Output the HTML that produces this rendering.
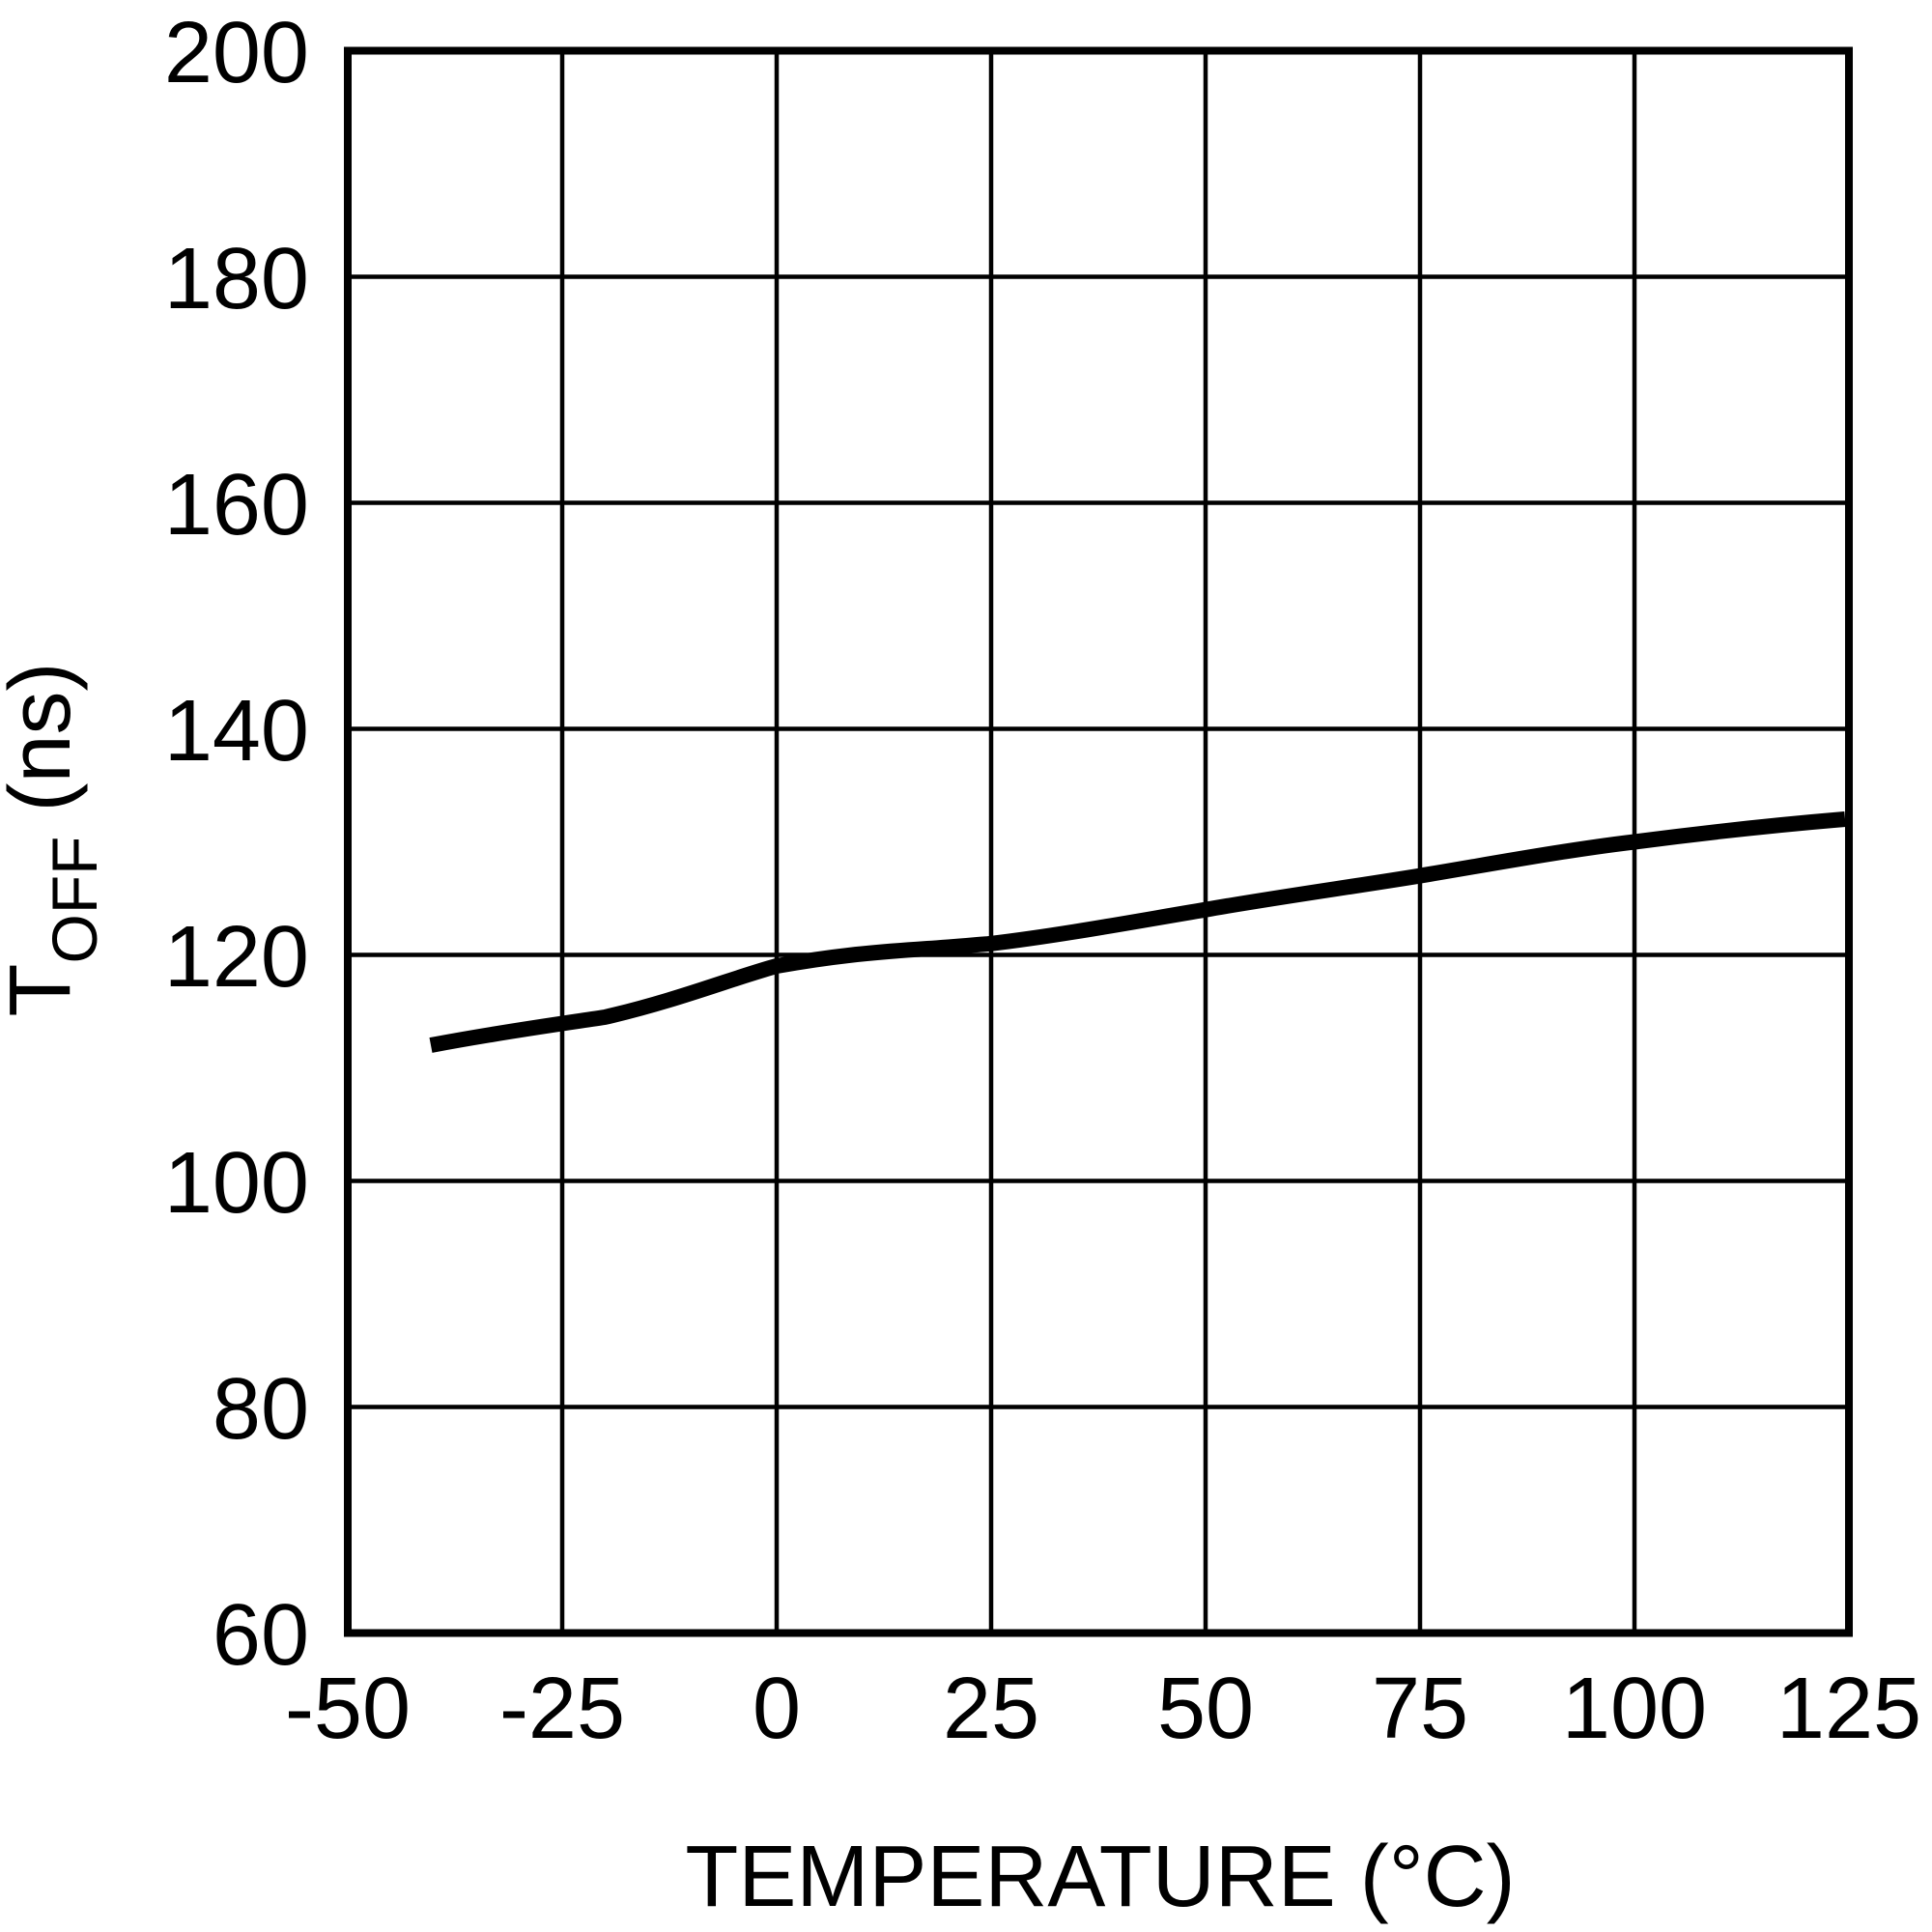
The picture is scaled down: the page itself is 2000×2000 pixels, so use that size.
<!DOCTYPE html>
<html><head><meta charset="utf-8"><style>html,body{margin:0;padding:0;background:#fff}svg{display:block}</style></head>
<body>
<svg width="2000" height="2000" viewBox="0 0 2000 2000" xmlns="http://www.w3.org/2000/svg" font-family="Liberation Sans, Arial, sans-serif">
<rect width="2000" height="2000" fill="#fff"/>
<g stroke="#000" stroke-width="4.5" fill="none">
<line x1="582" y1="52.5" x2="582" y2="1690.5"/>
<line x1="804" y1="52.5" x2="804" y2="1690.5"/>
<line x1="1026" y1="52.5" x2="1026" y2="1690.5"/>
<line x1="1248" y1="52.5" x2="1248" y2="1690.5"/>
<line x1="1470" y1="52.5" x2="1470" y2="1690.5"/>
<line x1="1692" y1="52.5" x2="1692" y2="1690.5"/>
<line x1="360" y1="286.5" x2="1914" y2="286.5"/>
<line x1="360" y1="520.5" x2="1914" y2="520.5"/>
<line x1="360" y1="754.5" x2="1914" y2="754.5"/>
<line x1="360" y1="988.5" x2="1914" y2="988.5"/>
<line x1="360" y1="1222.5" x2="1914" y2="1222.5"/>
<line x1="360" y1="1456.5" x2="1914" y2="1456.5"/>
</g>
<rect x="360" y="52.5" width="1554" height="1638" fill="none" stroke="#000" stroke-width="8"/>
<path d="M446,1082 C520,1068 580,1060 626,1053 C700,1036 760,1012 804,1000 C860,990 900,986 960,982 C990,980 1010,978 1026,976.8 C1100,968 1180,953 1248,941.7 C1320,929 1400,918 1470,906.6 C1540,895 1620,880 1692,871.5 C1780,860 1850,853 1910,848" fill="none" stroke="#000" stroke-width="16" stroke-linejoin="round"/>
<g font-size="90" fill="#000" text-anchor="end">
<text x="320" y="85">200</text>
<text x="320" y="319">180</text>
<text x="320" y="553">160</text>
<text x="320" y="787">140</text>
<text x="320" y="1021">120</text>
<text x="320" y="1255">100</text>
<text x="320" y="1489">80</text>
<text x="320" y="1723">60</text>
</g>
<g font-size="90" fill="#000" text-anchor="middle">
<text x="360" y="1799">-50</text>
<text x="582" y="1799">-25</text>
<text x="804" y="1799">0</text>
<text x="1026" y="1799">25</text>
<text x="1248" y="1799">50</text>
<text x="1470" y="1799">75</text>
<text x="1692" y="1799">100</text>
<text x="1914" y="1799">125</text>
<text x="1139" y="1973">TEMPERATURE (°C)</text>
</g>
<text transform="translate(72,869) rotate(-90)" text-anchor="middle" font-size="90" fill="#000">T<tspan font-size="66" dy="28">OFF</tspan><tspan dy="-28"> (ns)</tspan></text>
</svg>
</body></html>
